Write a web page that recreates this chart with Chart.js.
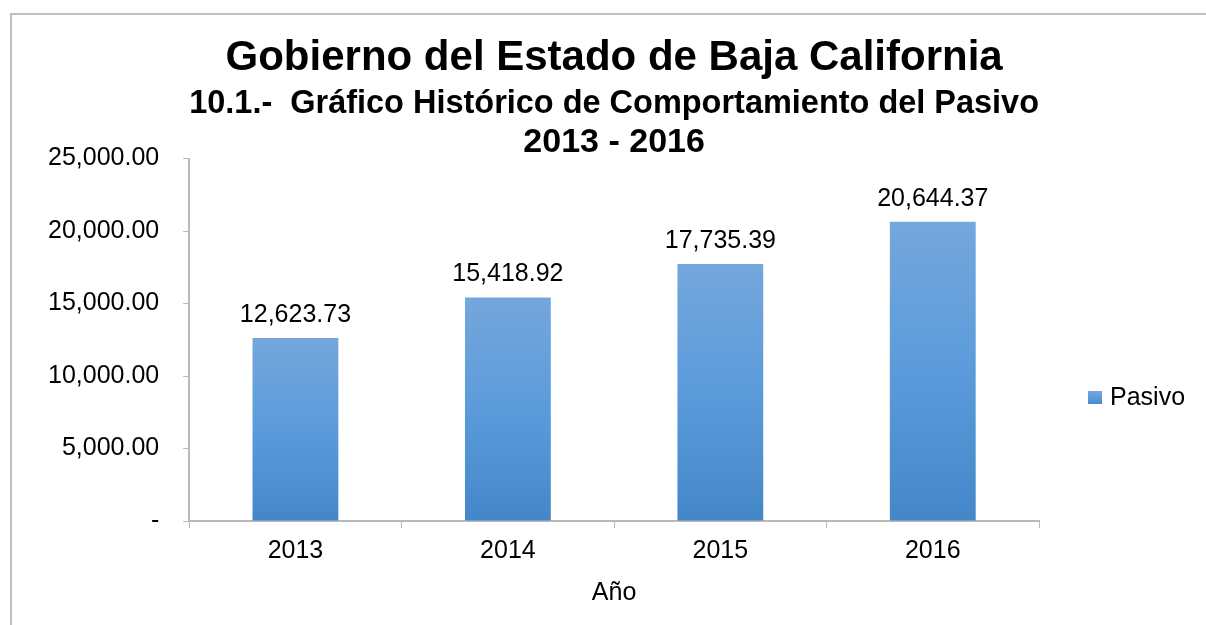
<!DOCTYPE html>
<html>
<head>
<meta charset="utf-8">
<script src="https://cdn.jsdelivr.net/npm/chart.js@4"></script>
<style>
  html, body { margin: 0; padding: 0; background: #fff; overflow: hidden; }
  #wrap { position: relative; width: 1206px; height: 625px; }
  #frame { position: absolute; left: 10px; top: 13px; width: 1300px; height: 700px;
           border-left: 2px solid #c0c0c0; border-top: 2px solid #c0c0c0; }
  #chart { position: absolute; left: 0; top: 0; }
</style>
</head>
<body>
<div id="wrap">
  <div id="frame"></div>
  <canvas id="chart" width="1206" height="625"></canvas>
</div>
<script>
// Data
const years = ['2013', '2014', '2015', '2016'];
const pasivo = [12623.73, 15418.92, 17735.39, 20644.37];
const yTicks = [0, 5000, 10000, 15000, 20000, 25000];

const seriesName = 'Pasivo';
const titleText = 'Gobierno del Estado de Baja California';
const subtitleLines = ['10.1.-  Gráfico Histórico de Comportamiento del Pasivo', '2013 - 2016'];
const xTitle = 'Año';

const FONT = '"Liberation Sans", Arial, sans-serif';
const axisGray = '#b9b9b9';

function fmt(v) {
    return v.toLocaleString('en-US', { minimumFractionDigits: 2, maximumFractionDigits: 2 });
}

function barGradient(c, top, bottom) {
    const g = c.createLinearGradient(0, top, 0, bottom);
    g.addColorStop(0, '#74a7dc');
    g.addColorStop(0.5, '#5b9bdb');
    g.addColorStop(1, '#4487c8');
    return g;
}

// value labels above each bar
const valueLabels = {
    id: 'valueLabels',
    afterDatasetsDraw(chart) {
        const ctx = chart.ctx;
        const meta = chart.getDatasetMeta(0);
        ctx.save();
        ctx.font = '25px ' + FONT;
        ctx.fillStyle = '#000';
        ctx.textAlign = 'center';
        ctx.textBaseline = 'middle';
        meta.data.forEach((bar, i) => {
            ctx.fillText(fmt(pasivo[i]), bar.x, bar.y - 23);
        });
        ctx.restore();
    }
};

// legend on the right, like the original
const sideLegend = {
    id: 'sideLegend',
    afterDraw(chart) {
        const ctx = chart.ctx;
        const area = chart.chartArea;
        const x = area.right + 49;
        const y = 398;
        ctx.save();
        ctx.fillStyle = barGradient(ctx, y - 7, y + 7);
        ctx.fillRect(x, y - 7, 14, 13);
        ctx.font = '25px ' + FONT;
        ctx.fillStyle = '#000';
        ctx.textAlign = 'left';
        ctx.textBaseline = 'middle';
        ctx.fillText(chart.data.datasets[0].label, x + 22, y);
        ctx.restore();
    }
};

new Chart(document.getElementById('chart').getContext('2d'), {
    type: 'bar',
    data: {
        labels: years,
        datasets: [{
            label: seriesName,
            data: pasivo,
            backgroundColor: function(c) {
                const chart = c.chart;
                if (!chart.chartArea || c.type !== 'data') return '#5b9bdb';
                const ys = chart.scales.y;
                return barGradient(chart.ctx, ys.getPixelForValue(c.raw), ys.getPixelForValue(0));
            },
            borderWidth: 0,
            categoryPercentage: 1,
            barPercentage: 0.404
        }]
    },
    plugins: [valueLabels, sideLegend],
    options: {
        responsive: false,
        animation: false,
        layout: {
            padding: { left: 24, right: 167, top: 0, bottom: 17 }
        },
        plugins: {
            legend: { display: false },
            tooltip: { enabled: false },
            title: {
                display: true,
                text: titleText,
                fullSize: false,
                color: '#000',
                font: { family: FONT, size: 42, weight: 'bold', lineHeight: 1.2 },
                padding: { top: 33, bottom: 0 }
            },
            subtitle: {
                display: true,
                text: subtitleLines,
                fullSize: false,
                color: '#000',
                font: { family: FONT, size: 34, weight: 'bold', lineHeight: 1.15 },
                padding: { top: 1, bottom: -4 }
            }
        },
        scales: {
            x: {
                grid: {
                    drawOnChartArea: false,
                    color: axisGray,
                    tickLength: 7,
                    offset: true
                },
                border: { color: axisGray, width: 2 },
                ticks: {
                    color: '#000',
                    font: { family: FONT, size: 25 },
                    padding: 8
                },
                title: {
                    display: true,
                    text: xTitle,
                    color: '#000',
                    font: { family: FONT, size: 25 },
                    padding: { top: 4, bottom: 0 }
                }
            },
            y: {
                min: yTicks[0],
                max: yTicks[yTicks.length - 1],
                afterBuildTicks(axis) {
                    axis.ticks = yTicks.map(v => ({ value: v }));
                },
                grid: {
                    drawOnChartArea: false,
                    color: axisGray,
                    tickLength: 6
                },
                border: { color: axisGray, width: 2 },
                ticks: {
                    color: '#000',
                    font: { family: FONT, size: 25 },
                    padding: 24,
                    callback: v => v === 0 ? '-' : fmt(v)
                }
            }
        }
    }
});
</script>
</body>
</html>
